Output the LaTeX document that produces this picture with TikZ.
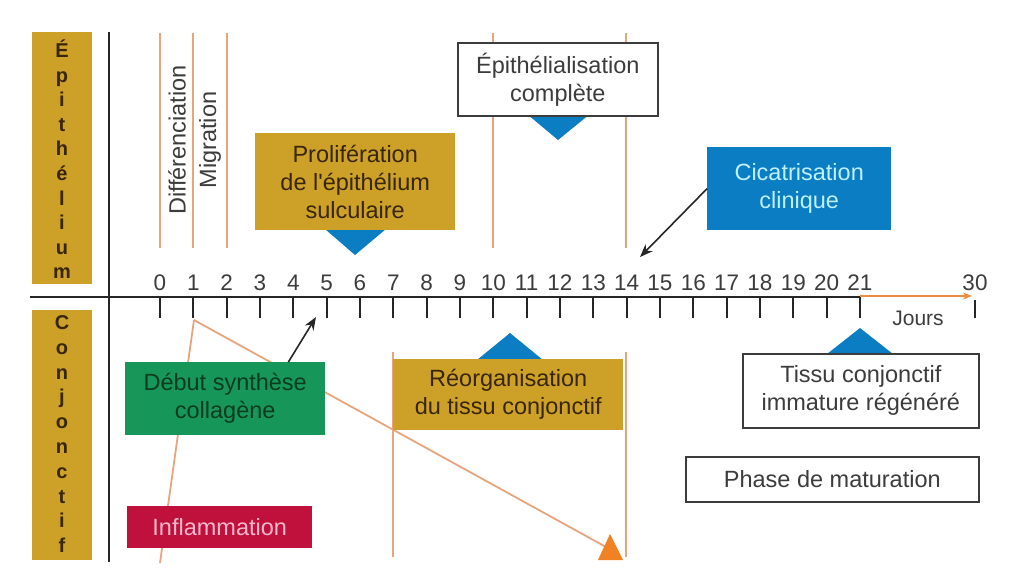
\documentclass[tikz,border=0pt]{standalone}
\usepackage{fontspec}
\setmainfont[Ligatures=TeXOff]{Liberation Sans}
\usetikzlibrary{arrows.meta}
\definecolor{cgold}{RGB}{205,160,40}
\definecolor{cblue}{RGB}{10,125,195}
\definecolor{cgreen}{RGB}{22,150,88}
\definecolor{ccrimson}{RGB}{192,16,60}
\definecolor{lorange}{RGB}{232,165,125}
\definecolor{dorange}{RGB}{240,130,35}
\definecolor{txtgray}{RGB}{60,60,60}
\definecolor{goldtxt}{RGB}{55,38,8}
\definecolor{greentxt}{RGB}{10,60,30}
\definecolor{cyantxt}{RGB}{190,240,255}
\definecolor{pinktxt}{RGB}{245,185,205}
\tikzset{
  txt/.style={font=\fontsize{23.5}{28}\selectfont, align=center},
  box/.style={txt, rectangle, inner sep=0pt, anchor=north west},
  whitebox/.style={box, draw=txtgray, line width=1.6pt, fill=white, text=txtgray},
  goldbox/.style={box, fill=cgold, text=goldtxt},
  olines/.style={lorange, line width=1.8pt},
  blk/.style={black!85, line width=1.8pt},
  num/.style={font=\fontsize{22.5}{26}\selectfont, text=txtgray, inner sep=0pt},
  side/.style={font=\fontsize{20}{24}\selectfont\bfseries, text=goldtxt, inner sep=0pt, text height=14pt, text depth=3pt},
  tri/.style={fill=cblue},
  blkarrow/.style={black!85, line width=1.6pt, -{Stealth[length=13pt,width=10pt]}}
}
\begin{document}
\begin{tikzpicture}[x=1pt,y=-1pt]
\useasboundingbox[fill=white] (0,0) rectangle (1018,571);

% side labels
\node[fill=cgold, minimum width=60pt, minimum height=252pt, anchor=north west, inner sep=0pt] (epi) at (32,32) {};
\node[fill=cgold, minimum width=60pt, minimum height=250pt, anchor=north west, inner sep=0pt] (conj) at (32,310) {};
\foreach \l [count=\i from 0] in {É,p,i,t,h,é,l,i,u,m}
  \node[side] (e\i) at (62,{52+24.6*\i}) {\l};
\foreach \l [count=\i from 0] in {C,o,n,j,o,n,c,t,i,f}
  \node[side] (c\i) at (62,{324+24.8*\i}) {\l};

% divider
\draw[blk] (109,32) -- (109,562);

% orange vertical lines (epithelium)
\foreach \x in {160,193,227,493,626}
  \draw[olines] (\x,33) -- (\x,248);
\node[txt, rotate=90, text=txtgray] (diff) at (177,140) {Différenciation};
\node[txt, rotate=90, text=txtgray] (migr) at (210,140) {Migration};

% orange vertical lines (conjonctif)
\draw[olines] (393,352) -- (393,557);
\draw[olines] (626,352) -- (626,557);

% axis
\draw[blk] (30,297) -- (860,297) -- (860,318);
\foreach \d in {0,...,20}
  \draw[blk] ({160+33.33*\d},297) -- ({160+33.33*\d},318);
\foreach \d in {0,...,21}
  \node[num] (n\d) at ({160+33.33*\d},283) {\d};
\node[num] (n30) at (975,283) {30};
\draw[olines, -{Stealth[length=9pt,width=7pt]}, dorange!70!lorange] (860,296) -- (972,296);
\draw[blk] (975,300) -- (975,318);
\node[num, font=\fontsize{21}{24}\selectfont] (jours) at (918,318) {Jours};

% diagonal orange lines from day 1
\coordinate (t1) at (194,320);
\coordinate (inflend) at (160,563);
\coordinate (triend) at (606,547);
\draw[olines] (t1) -- (inflend);
\draw[olines] (t1) -- (triend);
\fill[dorange] (598,560) -- (623,560) -- (610,534) -- cycle;

% blue triangles
\fill[cblue] (527,114) -- (590,114) -- (558,140) -- cycle;
\fill[cblue] (325,229) -- (386,229) -- (355,255) -- cycle;
\fill[cblue] (477,360) -- (543,360) -- (510,333) -- cycle;
\fill[cblue] (827,354) -- (893,354) -- (860,328) -- cycle;

% boxes
\node[whitebox, minimum width=200pt, minimum height=73pt] (epic) at (457,42) {Épithélialisation\\complète};
\node[goldbox, minimum width=200pt, minimum height=97pt] (prolif) at (255,133) {Prolifération\\de l'épithélium\\sulculaire};
\node[box, fill=cblue, text=cyantxt, minimum width=184pt, minimum height=83pt] (cic) at (707,147) {Cicatrisation\\clinique};
\node[box, fill=cgreen, text=greentxt, minimum width=200pt, minimum height=73pt] (deb) at (125,362) {Début synthèse\\collagène};
\node[goldbox, minimum width=230pt, minimum height=71pt] (reorg) at (393,359) {Réorganisation\\du tissu conjonctif};
\node[whitebox, minimum width=236pt, minimum height=74pt] (tissu) at (742,353) {Tissu conjonctif\\immature régénéré};
\node[whitebox, minimum width=293pt, minimum height=45pt] (phase) at (685,456) {Phase de maturation};
\node[box, fill=ccrimson, text=pinktxt, minimum width=185pt, minimum height=42pt] (infl) at (127,506) {Inflammation};

% black arrows
\coordinate (a14) at (640,257);
\coordinate (a5) at (316,317);
\draw[blkarrow] (cic.west) -- (a14);
\draw[blkarrow] ([xshift=-37pt]deb.north east) -- (a5);
\end{tikzpicture}
\end{document}
